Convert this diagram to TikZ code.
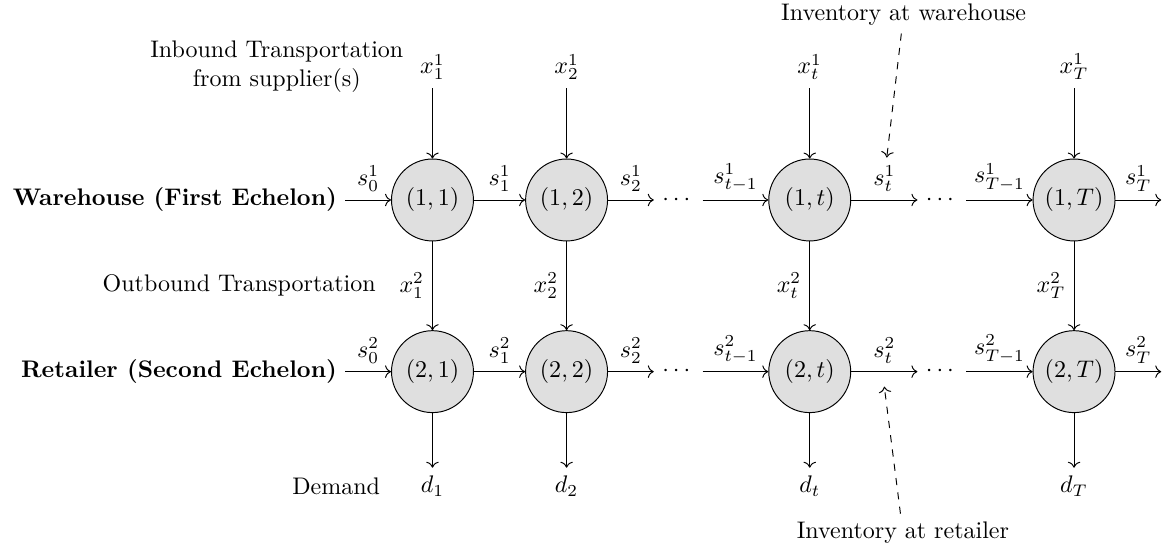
\documentclass[tikz,border=0pt]{standalone}
\usepackage{amsmath,amssymb}
\usetikzlibrary{arrows.meta,positioning}

\begin{document}
\begin{tikzpicture}[
  period/.style={circle,draw,fill=gray!25,minimum size=1.2cm,inner sep=0pt},
  note/.style={->,dashed}]
  \useasboundingbox (-6.334,-5.155) rectangle (10.743,2.929);
  % First echelon
  \node[period] (w1) at (0,0) {$(1,1)$};
  \node[period,right=0.75cm of w1] (w2) {$(1,2)$};
  \node[right=0.67cm of w2] (wd1) {$\cdots$};
  \node[period,right=0.96cm of wd1] (w3) {$(1,t)$};
  \node[right=0.97cm of w3] (wd2) {$\cdots$};
  \node[period,right=0.97cm of wd2] (w4) {$(1,T)$};
  \coordinate[right=0.67cm of w4] (we);
  % Second echelon
  \foreach \i/\l in {1/1,2/2,3/t,4/T}
    \node[period,below=1.3cm of w\i] (r\i) {$(2,\l)$};
  \node (rd1) at (wd1 |- r1) {$\cdots$};
  \node (rd2) at (wd2 |- r1) {$\cdots$};
  \coordinate[right=0.67cm of r4] (re);
  % Vertical flows
  \foreach \i/\l in {1/1,2/2,3/t,4/T} {
    \node[above=1.03cm of w\i] (x\i) {$x^1_\l$};
    \node[below=0.8cm of r\i] (d\i) {$d_\l$};
    \draw[->] (x\i) -- (w\i);
    \draw[->] (w\i) -- node[left] (y\i) {$x^2_\l$} (r\i);
    \draw[->] (r\i) -- (d\i);
  }
  % Row labels
  \node[font=\bfseries,left=0.67cm of w1] (w0) {Warehouse (First Echelon)};
  \node[font=\bfseries,left=0.67cm of r1] (r0) {Retailer (Second Echelon)};
  \node[align=center,left=0cm of x1] (inb) {Inbound Transportation\\from supplier(s)};
  \node[left=0.1cm of y1] (outb) {Outbound Transportation};
  \node[left=0.35cm of d1] (dem) {Demand};
  % Inventory flows
  \foreach \r/\e in {w/1,r/2} {
    \draw[->] (\r0) -- node[above] {$s^\e_0$} (\r1);
    \draw[->] (\r1) -- node[above] {$s^\e_1$} (\r2);
    \draw[->] (\r2) -- node[above] {$s^\e_2$} (\r d1);
    \draw[->] (\r d1) -- node[above] {$s^\e_{t-1}$} (\r3);
    \draw[->] (\r3) -- node[above] (s\e) {$s^\e_t$}
      coordinate[midway,yshift=-0.22cm] (c\e) (\r d2);
    \draw[->] (\r d2) -- node[above] {$s^\e_{T-1}$} (\r4);
    \draw[->] (\r4) -- node[above] {$s^\e_T$} (\r e);
  }
  % Notes
  \node (invw) at (6.9,2.72) {Inventory at warehouse};
  \node (invr) at (6.89,-4.877) {Inventory at retailer};
  \draw[note] (invw) -- (s1);
  \draw[note] (invr) -- (c2);
\end{tikzpicture}
\end{document}
